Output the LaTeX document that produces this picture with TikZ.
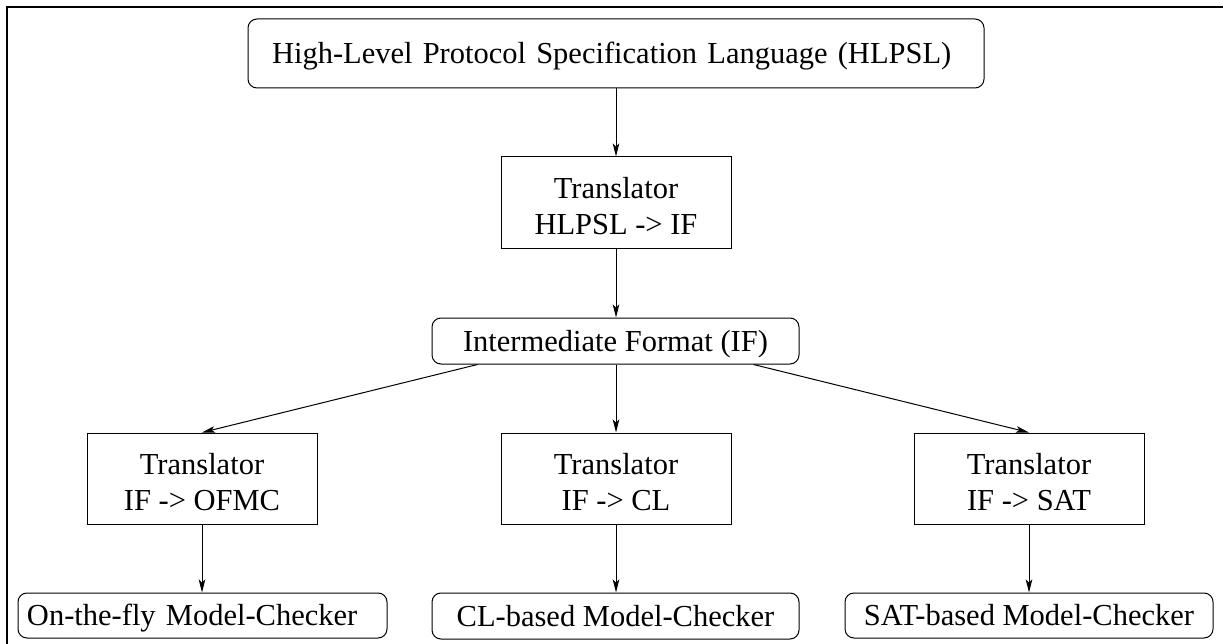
\documentclass[tikz,border=0pt]{standalone}
\usepackage{fontspec}
\setmainfont{Liberation Serif}
\usetikzlibrary{arrows.meta}
\begin{document}
\begin{tikzpicture}[x=1pt,y=-1pt,
  box/.style={draw, line width=1pt, inner sep=0pt, font=\fontsize{30.5}{36}\selectfont},
  rbox/.style={box, rounded corners=9pt},
  oneline/.style={text height=20pt, text depth=0pt},
  twoline/.style={align=center, text height=64pt, text depth=0pt},
  tbox/.style={box, twoline, minimum width=230pt, minimum height=91pt},
  arr/.style={line width=1pt, -{Stealth[length=13pt,width=6.5pt,inset=3pt]}}]
\useasboundingbox (0,0) rectangle (1223,644);
\draw[line width=2.6pt] (7,644) -- (7,7) -- (1223,7);
% nodes
\node[rbox, oneline, align=left, text width=688pt, inner xsep=24pt, minimum height=69pt] (hlpsl) at (616,53.5) {High-Level Protocol Specification Language (HLPSL)};
\node[tbox, minimum height=92pt] (t1) at (616,203) {Translator\\HLPSL -> IF};
\node[rbox, oneline, minimum width=367pt, minimum height=46pt] (if) at (615.5,341) {Intermediate Format (IF)};
\node[tbox] (t2) at (202,478.5) {Translator\\IF -> OFMC};
\node[tbox] (t3) at (616,478.5) {Translator\\IF -> CL};
\node[tbox] (t4) at (1029,478.5) {Translator\\IF -> SAT};
\node[rbox, oneline, align=left, text width=351pt, inner xsep=9pt, minimum height=45pt] (m1) at (202.5,615.5) {On-the-fly Model-Checker};
\node[rbox, oneline, minimum width=367pt, minimum height=46pt] (m2) at (615.5,616) {CL-based Model-Checker};
\node[rbox, oneline, minimum width=368pt, minimum height=45pt] (m3) at (1029,615.5) {SAT-based Model-Checker};
% connectors
\draw[arr] (hlpsl.south |- hlpsl.south) -- (t1.north);
\draw[arr] (t1.south) -- (t1.south |- if.north);
\draw[arr] ([xshift=46pt]if.south west) -- (t2.north);
\draw[arr] (if.south -| t3.north) -- (t3.north);
\draw[arr] ([xshift=-46pt]if.south east) -- (t4.north);
\draw[arr] (t2.south) -- (t2.south |- m1.north);
\draw[arr] (t3.south) -- (t3.south |- m2.north);
\draw[arr] (t4.south) -- (t4.south |- m3.north);
\end{tikzpicture}
\end{document}
